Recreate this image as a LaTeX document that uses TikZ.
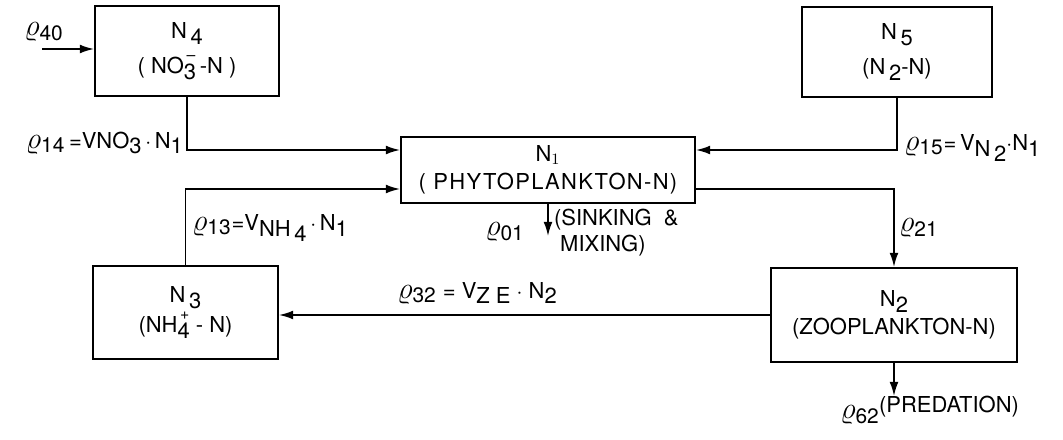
\documentclass[tikz,border=0pt]{standalone}
\usepackage{fontspec}
\setmainfont{TeX Gyre Heros}
\usetikzlibrary{arrows.meta}
\newcommand{\lo}[1]{\raisebox{-0.5ex}{#1}}
\newcommand{\ion}[2]{\rlap{\raisebox{1.1ex}{\small\,#2}}\lo{#1}}
\newcommand{\rr}[1]{{\fontsize{17}{17}\selectfont$\varrho_{\mathrm{#1}}$}}

\begin{document}
\begin{tikzpicture}[x=0.02cm, y=-0.02cm,
  font=\fontsize{12.5}{20}\selectfont,
  pool/.style={draw, line width=1.2pt, align=center, inner sep=0pt},
  flow/.style={line width=0.9pt, -{Latex[length=8pt,width=5pt]}},
  rate/.style={inner sep=1pt}]
  \useasboundingbox (0,0) rectangle (1063,440);
  % compartments
  \node[pool, minimum width=3.68cm, minimum height=1.8cm] (N4) at (187,51) {N\,\lo{4}\\( NO\ion{3}{--}\,-N )};
  \node[pool, minimum width=3.8cm, minimum height=1.8cm] (N5) at (897,52) {N\,\lo{5}\\(N\,\lo{2}-N)};
  \node[pool, minimum width=5.88cm, minimum height=1.32cm, font=\fontsize{12.5}{16}\selectfont] (N1) at (548,170) {N$_1$\\{\addfontfeature{LetterSpace=6}( PHYTOPLANKTON-N)}};
  \node[pool, minimum width=3.7cm, minimum height=1.86cm, font=\fontsize{12.5}{17}\selectfont] (N3) at (185.5,312.5) {N\,\lo{3}\\(NH\ion{4}{+} - N)};
  \node[pool, minimum width=4.92cm, minimum height=1.88cm, font=\fontsize{12.5}{16}\selectfont] (N2) at (894,315) {N\lo{2}\\(ZOOPLANKTON-N)};
  % free ends
  \coordinate (in40) at (42,49);
  \coordinate (out01) at (547,236);
  \coordinate (out62) at (892,396);
  % flows
  \draw[flow] (in40) -- (in40 -| N4.west);
  \draw[flow] (N4.south) |- ([yshift=0.4cm]N1.west);
  \draw[flow] (N3.north) |- ([yshift=-0.38cm]N1.west);
  \draw[flow] (N5.south) |- ([yshift=0.4cm]N1.east);
  \draw[flow] ([yshift=-0.38cm]N1.east) -| (N2.north);
  \draw[flow] (N2.west) -- (N2.west -| N3.east);
  \draw[flow] (N1.south) -- (N1.south |- out01);
  \draw[flow] (N2.south) -- (N2.south |- out62);
  % rates
  \node[rate] (r40) at (44,32) {\rr{40}};
  \node[rate, anchor=east] (r14) at (185,143) {\rr{14}\,=VNO\lo{3}\,$\cdot$\,N\lo{1}};
  \node[rate, anchor=west] (r15) at (902,148) {\rr{15}=\,V\lo{N\,\lo{2}}$\cdot$N\lo{1}};
  \node[rate, anchor=west] (r13) at (190,228) {\rr{13}=V\lo{NH\,\lo{4}}\,$\cdot$\,N\lo{1}};
  \node[rate] (r01) at (505,232) {\rr{01}};
  \node[rate, anchor=north west, align=left, font=\fontsize{12.5}{15}\selectfont] (sink) at (552,207) {(SINKING \ \&\\\ MIXING)};
  \node[rate, anchor=west] (r21) at (897,228) {\rr{21}};
  \node[rate] (r32) at (477,293) {\rr{32} = V\lo{Z E}\ $\cdot$\ N\lo{2}};
  \node[rate] (r62) at (860,415) {\rr{62}};
  \node[rate, anchor=west] (pred) at (877,407) {(PREDATION)};
\end{tikzpicture}
\end{document}
